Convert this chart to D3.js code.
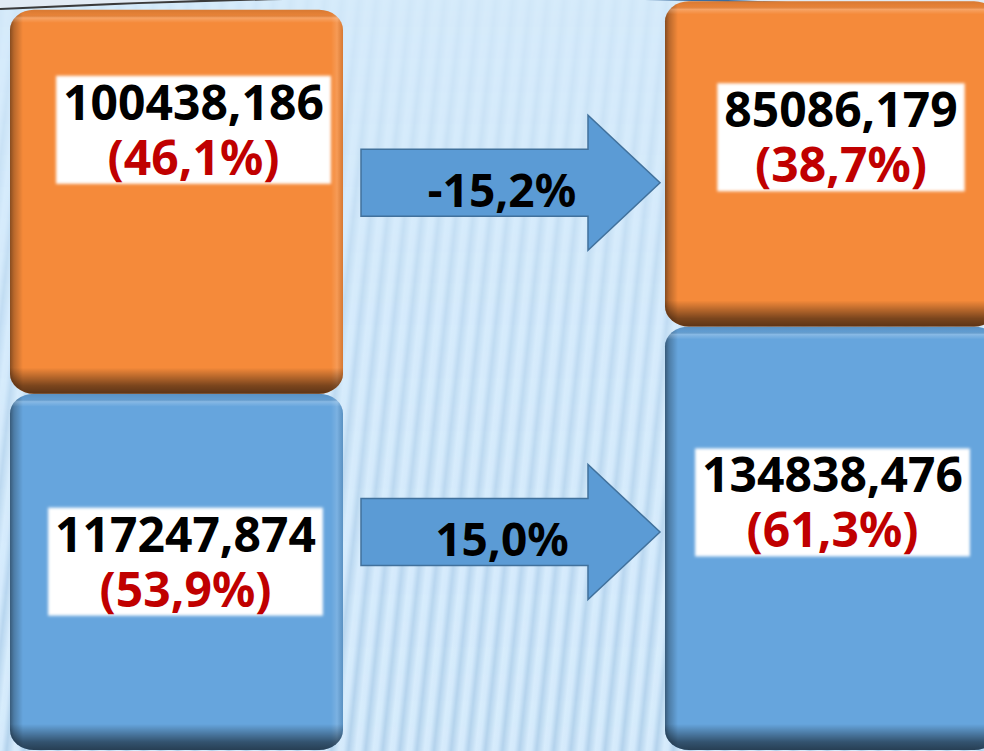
<!DOCTYPE html>
<html>
<head>
<meta charset="utf-8">
<script src="https://cdn.jsdelivr.net/npm/d3@7"></script>
<style>
  html, body { margin: 0; padding: 0; overflow: hidden; background: #d6ebfb; }
  svg { display: block; }
</style>
</head>
<body>
<script>
// данные
const columns = ["before", "after"];
const topValues = [100438.186, 85086.179];
const bottomValues = [117247.874, 134838.476];
const changeLabels = ["-15,2%", "15,0%"];

// раскладка подписей (сдвиг от центра столбца, от верха сегмента)
const labelNudge = { top: [[17, 110], [9.5, 126]], bottom: [[9, 158], [1, 166]] };
const arrowNudge = [0, -23];

const width = 984, height = 751;
const colors = { top: "#f58a3a", bottom: "#66a5dd" };

const ru = d3.formatLocale({ decimal: ",", thousands: "", grouping: [3], currency: ["", ""] });
const fmtNum = ru.format(".3f");
const fmtPct = ru.format(".1%");

const x = d3.scaleBand().domain(columns).range([10, 998]).paddingInner(0.4916);
const y = d3.scaleLinear().domain([24000, 220000]).range([750, 1]).clamp(true);

// сегменты
let segs = [];
columns.forEach((c, i) => {
  const total = topValues[i] + bottomValues[i];
  segs.push({ col: c, i, key: "bottom", v0: 0, v1: bottomValues[i], value: bottomValues[i], share: bottomValues[i] / total });
  segs.push({ col: c, i, key: "top", v0: bottomValues[i], v1: total, value: topValues[i], share: topValues[i] / total });
});
segs.forEach((d, k) => {
  d.id = k;
  d.x = x(d.col); d.w = x.bandwidth();
  d.y = y(d.v1); d.h = y(d.v0) - y(d.v1);
});

const svg = d3.select("body").append("svg")
  .attr("width", width).attr("height", height);
const defs = svg.append("defs");

// фон с полосками
const sg = defs.append("linearGradient").attr("id", "stripe");
sg.append("stop").attr("offset", 0).attr("stop-color", "#b3d2ec");
sg.append("stop").attr("offset", 0.45).attr("stop-color", "#d7ecfc");
sg.append("stop").attr("offset", 0.7).attr("stop-color", "#d3e9fb");
sg.append("stop").attr("offset", 1).attr("stop-color", "#b3d2ec");
const pat = defs.append("pattern").attr("id", "stripes")
  .attr("patternUnits", "userSpaceOnUse").attr("width", 17).attr("height", 1200)
  .attr("patternTransform", "rotate(6)");
pat.append("rect").attr("width", 17).attr("height", 1200).attr("fill", "url(#stripe)");

const mg = defs.append("linearGradient").attr("id", "fade").attr("x1", 0).attr("y1", 0).attr("x2", 0).attr("y2", 1);
mg.append("stop").attr("offset", 0).attr("stop-color", "#fff").attr("stop-opacity", 0.15);
mg.append("stop").attr("offset", 0.4).attr("stop-color", "#fff").attr("stop-opacity", 0.6);
mg.append("stop").attr("offset", 1).attr("stop-color", "#fff").attr("stop-opacity", 1);
defs.append("mask").attr("id", "fadeMask")
  .append("rect").attr("width", width).attr("height", height).attr("fill", "url(#fade)");

svg.append("rect").attr("width", width).attr("height", height).attr("fill", "#d6ebfb");
svg.append("rect").attr("width", width).attr("height", height)
  .attr("fill", "url(#stripes)").attr("mask", "url(#fadeMask)");

// дуга сверху
const cg = defs.append("linearGradient").attr("id", "curveStroke")
  .attr("gradientUnits", "userSpaceOnUse").attr("x1", 0).attr("x2", width);
cg.append("stop").attr("offset", 0.35).attr("stop-color", "#3a3a3a");
cg.append("stop").attr("offset", 0.65).attr("stop-color", "#3b6c9f");
svg.append("path").attr("d", `M0,0 L0,9 Q${width / 2},-16 ${width},12 L${width},0 Z`)
  .attr("fill", "#e2ebf4");
svg.append("path").attr("d", `M0,9 Q${width / 2},-16 ${width},12`)
  .attr("fill", "none").attr("stroke", "url(#curveStroke)").attr("stroke-width", 2);

// градиенты объема
function stops(g, list) {
  list.forEach(s => g.append("stop").attr("offset", s[0])
    .attr("stop-color", s[1]).attr("stop-opacity", s[2]));
}
segs.forEach(d => {
  const vg = defs.append("linearGradient").attr("id", "vg" + d.id)
    .attr("gradientUnits", "userSpaceOnUse")
    .attr("x1", 0).attr("x2", 0).attr("y1", d.y).attr("y2", d.y + d.h);
  const p = v => Math.max(0, Math.min(1, v / d.h));
  stops(vg, [
    [0, "#000", 0.12], [p(5), "#000", 0.06], [p(8), "#fff", 0.22], [p(13), "#fff", 0],
    [p(d.h - 26), "#000", 0], [p(d.h - 8), "#000", 0.5], [1, "#000", 0.62]
  ]);
  const hg = defs.append("linearGradient").attr("id", "hg" + d.id)
    .attr("gradientUnits", "userSpaceOnUse")
    .attr("x1", d.x).attr("x2", d.x + d.w).attr("y1", 0).attr("y2", 0);
  const q = v => v / d.w;
  stops(hg, [
    [0, "#000", 0.45], [q(4), "#000", 0.25], [q(13), "#000", 0],
    [q(d.w - 12), "#fff", 0], [q(d.w - 6), "#fff", 0.14], [1, "#000", 0.12]
  ]);
});

const bars = svg.append("g").selectAll("g").data(segs).join("g");
["base", "hg", "vg"].forEach(layer => {
  bars.append("rect")
    .attr("x", d => d.x).attr("y", d => d.y)
    .attr("width", d => d.w).attr("height", d => d.h)
    .attr("rx", 24).attr("ry", 20)
    .attr("fill", d => layer === "base" ? colors[d.key] : `url(#${layer}${d.id})`);
});

// стрелки
const ax0 = x(columns[0]) + x.bandwidth() + 18;
const ax1 = x(columns[1]) - 5;
const shaftEnd = ax1 - 72;
["top", "bottom"].forEach((key, j) => {
  const mids = columns.map(c => {
    const s = segs.find(d => d.col === c && d.key === key);
    return s.y + s.h / 2;
  });
  const cy = d3.mean(mids) + arrowNudge[j];
  const pts = [[ax0, cy - 33.5], [shaftEnd, cy - 33.5], [shaftEnd, cy - 67.5], [ax1, cy],
    [shaftEnd, cy + 67.5], [shaftEnd, cy + 33.5], [ax0, cy + 33.5]];
  svg.append("path")
    .attr("d", d3.line()(pts) + "Z")
    .attr("fill", "#5b9bd5").attr("stroke", "#41719c").attr("stroke-width", 1.5);
  svg.append("text")
    .attr("x", ax0 + 141).attr("y", cy + 24)
    .attr("text-anchor", "middle")
    .attr("font-family", "'Noto Sans', sans-serif").attr("font-weight", "bold")
    .attr("font-size", 46).attr("fill", "#000")
    .text(changeLabels[j]);
});

// подписи
defs.append("filter").attr("id", "soft").attr("x", "-10%").attr("y", "-10%")
  .attr("width", "120%").attr("height", "120%")
  .append("feGaussianBlur").attr("stdDeviation", 1.4);

const labels = svg.append("g").selectAll("g").data(segs).join("g")
  .attr("transform", d => {
    const n = labelNudge[d.key][d.i];
    return `translate(${d.x + d.w / 2 + n[0]},${d.y + n[1]})`;
  });
const box = labels.append("rect").attr("fill", "#fff").attr("filter", "url(#soft)");
const txt = labels.append("text")
  .attr("text-anchor", "middle")
  .attr("font-family", "'Noto Sans', sans-serif").attr("font-weight", "bold")
  .attr("font-size", 48);
txt.append("tspan").attr("x", 0).attr("fill", "#000")
  .text(d => fmtNum(d.value));
txt.append("tspan").attr("x", 0).attr("dy", 55).attr("fill", "#c00000")
  .text(d => `(${fmtPct(d.share)})`);
box.each(function(d, k) {
  const w = d3.max(d3.select(txt.nodes()[k]).selectAll("tspan").nodes(), n => n.getComputedTextLength());
  d3.select(this).attr("x", -w / 2 - 7).attr("y", -44).attr("width", w + 14).attr("height", 108);
});
</script>
</body>
</html>
